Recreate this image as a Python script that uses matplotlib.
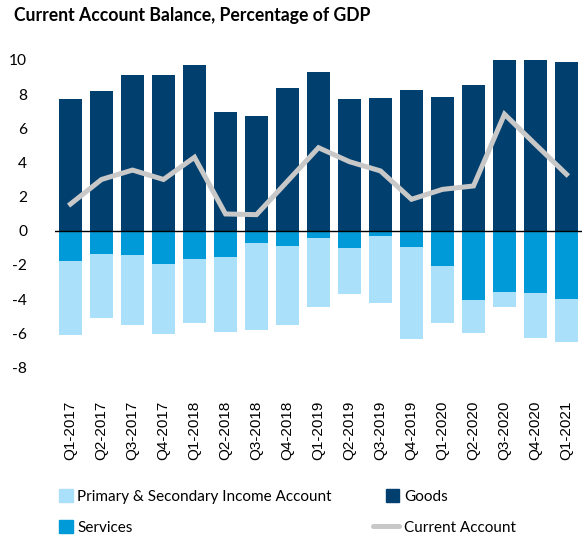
import numpy as np
import matplotlib
matplotlib.use("Agg")
import matplotlib.pyplot as plt
from matplotlib.patches import Patch, Rectangle
from matplotlib.lines import Line2D
from matplotlib.legend_handler import HandlerPatch

quarters = ["Q1-2017", "Q2-2017", "Q3-2017", "Q4-2017", "Q1-2018", "Q2-2018",
            "Q3-2018", "Q4-2018", "Q1-2019", "Q2-2019", "Q3-2019", "Q4-2019",
            "Q1-2020", "Q2-2020", "Q3-2020", "Q4-2020", "Q1-2021"]
goods = [7.71, 8.18, 9.10, 9.10, 9.71, 6.95, 6.74, 8.34, 9.32, 7.71, 7.75, 8.22,
         7.83, 8.54, 10.02, 10.02, 9.86]
services = [-1.78, -1.35, -1.41, -1.93, -1.64, -1.52, -0.72, -0.88, -0.41, -1.00,
            -0.29, -0.96, -2.05, -4.04, -3.57, -3.67, -4.00]
income = [-4.35, -3.77, -4.14, -4.12, -3.75, -4.42, -5.10, -4.63, -4.04, -2.71,
          -3.97, -5.37, -3.38, -1.94, -0.92, -2.60, -2.52]
current = [1.56, 3.00, 3.55, 3.00, 4.30, 0.98, 0.94, 2.90, 4.86, 4.04, 3.50, 1.84,
           2.42, 2.62, 6.82, 5.05, 3.30]
yticks = [10, 8, 6, 4, 2, 0, -2, -4, -6, -8]

c_goods = "#003f6e"
c_serv = "#009ad9"
c_inc = "#abe0fa"
c_line = "#c8c8c8"


def square_patch(legend, orig_handle, xdescent, ydescent, width, height, fontsize):
    # square box pushed to the right end of the handle area
    return Rectangle((-xdescent + width - height, -ydescent), height, height)


fig = plt.figure(figsize=(5.87, 5.36), dpi=100)
ax = fig.add_axes([0.0937, 0.3147, 0.8978, 0.5735])

x = np.arange(len(quarters))
w = 0.72
ax.bar(x, goods, w, color=c_goods)
ax.bar(x, services, w, color=c_serv)
ax.bar(x, income, w, bottom=services, color=c_inc)
ax.plot(x, current, color=c_line, lw=3.6, solid_joinstyle="miter")
ax.axhline(0, color="black", lw=1)

ax.set_xlim(-0.5, 16.5)
ax.set_ylim(-8, 10)
ax.set_yticks(yticks)
ax.set_yticklabels([str(v) for v in yticks], family="Lato", fontsize=11.2)
ax.set_xticks(x)
ax.set_xticklabels(quarters, rotation=90, family="Liberation Sans", fontsize=11)
ax.tick_params(axis="y", length=0, pad=20)
ax.tick_params(axis="x", length=0, pad=24)
for s in ax.spines.values():
    s.set_visible(False)

fig.text(0.024, 0.972, "Current Account Balance, Percentage of GDP", family="Lato",
         fontweight="bold", fontsize=12.7, va="center", ha="left")

handles = [Patch(color=c_inc), Patch(color=c_serv), Patch(color=c_goods),
           Line2D([], [], color=c_line, lw=3.6, solid_capstyle="round")]
labels = ["Primary & Secondary Income Account", "Services", "Goods", "Current Account"]
fig.legend(handles, labels, ncol=2, loc="upper left", bbox_to_anchor=(0.0676, 0.1),
           frameon=False, prop={"family": "Lato", "size": 11},
           handlelength=1.75, handleheight=1.0, handletextpad=0.3,
           columnspacing=2.68, labelspacing=1.05, borderaxespad=0,
           handler_map={Patch: HandlerPatch(patch_func=square_patch)})

fig.savefig("out.png", dpi=100)
